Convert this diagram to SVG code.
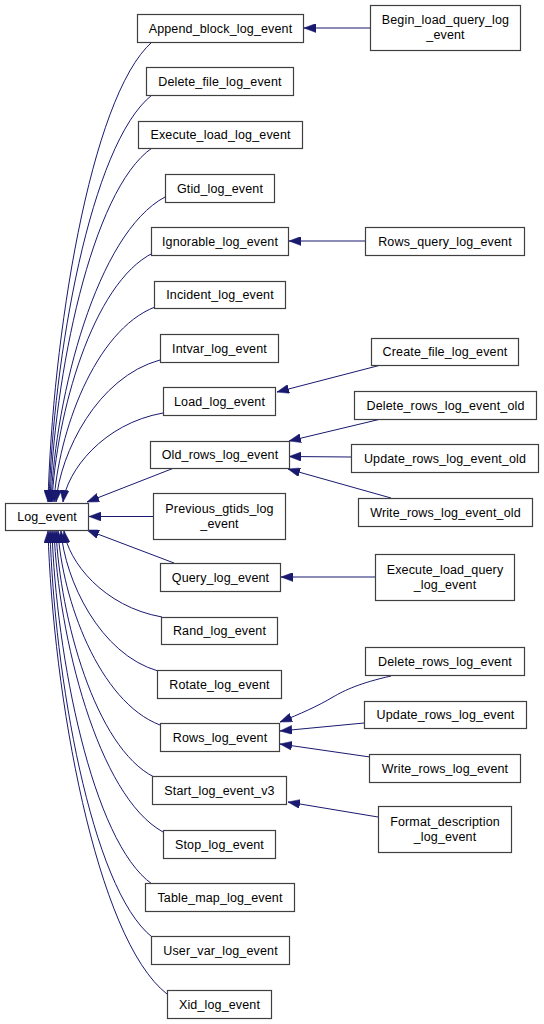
<svg xmlns="http://www.w3.org/2000/svg" width="544" height="1024" viewBox="0 0 544 1024">
<style>
.n rect{fill:#ffffff;stroke:#404040;stroke-width:1.2}
.n text{font-family:"Liberation Sans",Arial,sans-serif;font-size:12.5px;letter-spacing:0.15px;text-anchor:middle;fill:#000000}
.e path{fill:none;stroke:#191970;stroke-width:1;marker-end:url(#ah)}
</style>
<defs>
<marker id="ah" markerUnits="userSpaceOnUse" viewBox="0 0 12 9" refX="12" refY="4.5" markerWidth="12" markerHeight="9" orient="auto">
<path d="M0,0 L12,4.5 L0,9 Z" fill="#191970" stroke="#191970" stroke-width="0.5"/>
</marker>
</defs>
<rect width="544" height="1024" fill="#ffffff"/>
<g id="edges" class="e">
<path d="M152,42 C89.6,97.2 52.2,341 48,502"/>
<path d="M152,95 C90.2,143.8 53.1,359.5 49,502"/>
<path d="M152,148 C90.8,190.5 54.1,378.1 50,502"/>
<path d="M165,197 C96.6,233.6 55.6,395.3 51,502"/>
<path d="M153,253 C92.4,282.9 56,414.9 52,502"/>
<path d="M155,307 C94.4,330.4 58,433.8 54,502"/>
<path d="M160,360 C97.6,377 60.2,452.3 56,502"/>
<path d="M163,413 C103,423.7 67,470.9 63,502"/>
<path d="M174,468 L87,502"/>
<path d="M153,516.5 L89,516.5"/>
<path d="M174,563 L87,530"/>
<path d="M162,617 C103.2,606.7 67.9,561.1 64,531"/>
<path d="M158,671 C99.8,654.2 64.9,580 61,531"/>
<path d="M160,725 C98.8,701.7 62.1,598.9 58,531"/>
<path d="M154,777 C95.2,747.5 59.9,617.1 56,531"/>
<path d="M163,832 C97.6,795.9 58.4,636.4 54,531"/>
<path d="M152,884 C92,841.6 56,654.6 52,531"/>
<path d="M152,937 C90.8,888.3 54.1,673.1 50,531"/>
<path d="M167,994 C95.6,938.4 52.8,693 48,531"/>
<path d="M370,28 L304,28"/>
<path d="M365,241 L289,241"/>
<path d="M381,365 L277,392"/>
<path d="M381,419 L289,441"/>
<path d="M351,457 L289,456.5"/>
<path d="M391,498 L288,469"/>
<path d="M375,577 L281,577"/>
<path d="M391,676 C360,683 345,690 333,697 C318,706 300,714 280,722"/>
<path d="M364,723 L280,731"/>
<path d="M370,757 L280,744"/>
<path d="M378,817 L288,802"/>
</g>
<g id="n_log_event" class="n"><rect x="5.5" y="503.5" width="83" height="27"/><text x="47" y="521">Log_event</text></g>
<g id="n_append" class="n"><rect x="137.5" y="14.5" width="166" height="28"/><text x="220.5" y="32.5">Append_block_log_event</text></g>
<g id="n_begin" class="n"><rect x="370.5" y="5.5" width="150" height="45"/><text x="445.5" y="24">Begin_load_query_log</text><text x="445.5" y="39">_event</text></g>
<g id="n_delete_file" class="n"><rect x="146.5" y="67.5" width="147" height="28"/><text x="220" y="85.5">Delete_file_log_event</text></g>
<g id="n_execute_load" class="n"><rect x="138.5" y="121.5" width="164" height="27"/><text x="220.5" y="139">Execute_load_log_event</text></g>
<g id="n_gtid" class="n"><rect x="165.5" y="174.5" width="109" height="28"/><text x="220" y="192.5">Gtid_log_event</text></g>
<g id="n_ignorable" class="n"><rect x="151.5" y="227.5" width="137" height="28"/><text x="220" y="245.5">Ignorable_log_event</text></g>
<g id="n_rows_query" class="n"><rect x="365.5" y="227.5" width="159" height="28"/><text x="445" y="245.5">Rows_query_log_event</text></g>
<g id="n_incident" class="n"><rect x="154.5" y="281.5" width="131" height="27"/><text x="220" y="299">Incident_log_event</text></g>
<g id="n_intvar" class="n"><rect x="160.5" y="334.5" width="118" height="28"/><text x="219.5" y="352.5">Intvar_log_event</text></g>
<g id="n_create_file" class="n"><rect x="371.5" y="338.5" width="147" height="27"/><text x="445" y="356">Create_file_log_event</text></g>
<g id="n_load" class="n"><rect x="163.5" y="387.5" width="112" height="28"/><text x="219.5" y="405.5">Load_log_event</text></g>
<g id="n_delete_rows_old" class="n"><rect x="354.5" y="391.5" width="182" height="28"/><text x="445.5" y="409.5">Delete_rows_log_event_old</text></g>
<g id="n_old_rows" class="n"><rect x="150.5" y="441.5" width="139" height="27"/><text x="220" y="459">Old_rows_log_event</text></g>
<g id="n_update_rows_old" class="n"><rect x="351.5" y="444.5" width="187" height="28"/><text x="445" y="462.5">Update_rows_log_event_old</text></g>
<g id="n_write_rows_old" class="n"><rect x="358.5" y="498.5" width="174" height="28"/><text x="445.5" y="516.5">Write_rows_log_event_old</text></g>
<g id="n_previous_gtids" class="n"><rect x="153.5" y="493.5" width="132" height="46"/><text x="219.5" y="513">Previous_gtids_log</text><text x="219.5" y="528">_event</text></g>
<g id="n_query" class="n"><rect x="160.5" y="563.5" width="120" height="28"/><text x="220.5" y="581.5">Query_log_event</text></g>
<g id="n_execute_load_query" class="n"><rect x="375.5" y="554.5" width="139" height="46"/><text x="445" y="573.5">Execute_load_query</text><text x="445" y="588.5">_log_event</text></g>
<g id="n_rand" class="n"><rect x="161.5" y="617.5" width="116" height="27"/><text x="219.5" y="635">Rand_log_event</text></g>
<g id="n_delete_rows" class="n"><rect x="365.5" y="647.5" width="159" height="28"/><text x="445" y="665.5">Delete_rows_log_event</text></g>
<g id="n_rotate" class="n"><rect x="157.5" y="670.5" width="124" height="28"/><text x="219.5" y="688.5">Rotate_log_event</text></g>
<g id="n_update_rows" class="n"><rect x="364.5" y="701.5" width="162" height="27"/><text x="445.5" y="719">Update_rows_log_event</text></g>
<g id="n_rows" class="n"><rect x="160.5" y="723.5" width="119" height="28"/><text x="220" y="741.5">Rows_log_event</text></g>
<g id="n_write_rows" class="n"><rect x="369.5" y="754.5" width="151" height="28"/><text x="445" y="772.5">Write_rows_log_event</text></g>
<g id="n_start_v3" class="n"><rect x="152.5" y="776.5" width="134" height="28"/><text x="219.5" y="794.5">Start_log_event_v3</text></g>
<g id="n_format_description" class="n"><rect x="378.5" y="806.5" width="133" height="46"/><text x="445" y="825.5">Format_description</text><text x="445" y="840.5">_log_event</text></g>
<g id="n_stop" class="n"><rect x="163.5" y="830.5" width="112" height="28"/><text x="219.5" y="848.5">Stop_log_event</text></g>
<g id="n_table_map" class="n"><rect x="145.5" y="883.5" width="149" height="28"/><text x="220" y="901.5">Table_map_log_event</text></g>
<g id="n_user_var" class="n"><rect x="151.5" y="936.5" width="138" height="28"/><text x="220.5" y="954.5">User_var_log_event</text></g>
<g id="n_xid" class="n"><rect x="167.5" y="990.5" width="104" height="28"/><text x="219.5" y="1008.5">Xid_log_event</text></g>
</svg>
